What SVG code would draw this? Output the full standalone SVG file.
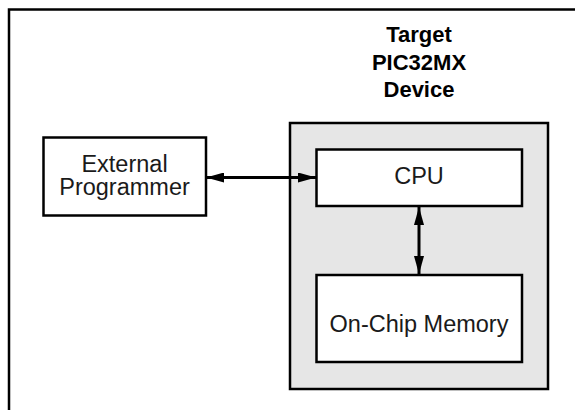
<svg xmlns="http://www.w3.org/2000/svg" width="575" height="410" viewBox="0 0 575 410">
  <style>
    .box { fill: #ffffff; stroke: #000000; stroke-width: 2.5; }
    .outer { fill: #e6e6e6; stroke: #000000; stroke-width: 2.5; }
    .frame { fill: none; stroke: #000000; stroke-width: 2.5; }
    .lbl { font-family: "Liberation Sans", Arial, sans-serif; font-size: 23.5px; fill: #1a1a1a; text-anchor: middle; }
    .title { font-family: "Liberation Sans", Arial, sans-serif; font-size: 22px; font-weight: bold; fill: #000000; text-anchor: middle; }
    .conn { stroke: #000000; stroke-width: 3; fill: none; }
  </style>
  <defs>
    <marker id="ah" viewBox="0 0 18 10" refX="18" refY="5" markerWidth="18" markerHeight="10" markerUnits="userSpaceOnUse" orient="auto-start-reverse">
      <path d="M0,0 L18,5 L0,10 Z" fill="#000000"/>
    </marker>
  </defs>
  <rect class="frame" x="9" y="9.5" width="600" height="420"/>
  <g id="device">
    <rect class="outer" x="290" y="123" width="258" height="266"/>
    <text class="title" x="419" y="41.5">Target</text>
    <text class="title" x="419" y="69.5">PIC32MX</text>
    <text class="title" x="419" y="96.5">Device</text>
  </g>
  <g id="programmer">
    <rect class="box" x="43.5" y="137.5" width="162.5" height="78"/>
    <text class="lbl" x="124.5" y="171.5">External</text>
    <text class="lbl" x="124.5" y="195">Programmer</text>
  </g>
  <g id="cpu">
    <rect class="box" x="316.5" y="149.5" width="205.5" height="56.5"/>
    <text class="lbl" x="419" y="184">CPU</text>
  </g>
  <g id="memory">
    <rect class="box" x="316.5" y="275" width="205.5" height="87"/>
    <text class="lbl" x="419" y="331.5">On-Chip Memory</text>
  </g>
  <g id="connectors">
    <line class="conn" x1="206" y1="177.5" x2="316" y2="177.5" marker-start="url(#ah)" marker-end="url(#ah)"/>
    <line class="conn" x1="419" y1="207" x2="419" y2="274" marker-start="url(#ah)" marker-end="url(#ah)"/>
  </g>
</svg>
